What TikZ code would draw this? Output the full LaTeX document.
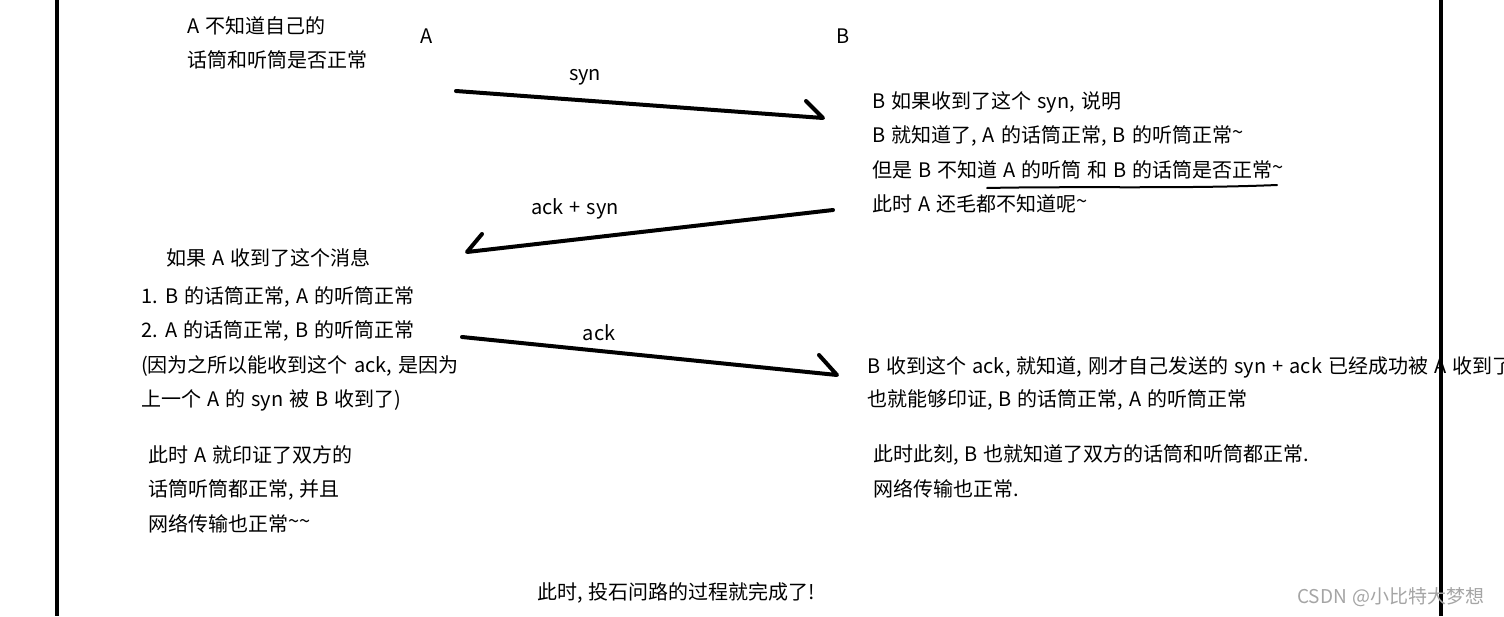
\documentclass[tikz,border=0pt]{standalone}
\usepackage{fontspec}
\setmainfont[WordSpace={1.35}]{Noto Sans CJK SC}
\definecolor{wm}{RGB}{165,165,165}
\begin{document}
\begin{tikzpicture}[x=1pt,y=-1pt,
  txt/.style={anchor=west, inner sep=0pt, font=\fontsize{20}{24}\selectfont},
  lbl/.style={anchor=center, inner sep=0pt, font=\fontsize{20}{24}\selectfont},
  pen/.style={line width=4pt, line cap=round, line join=round},
  frame/.style={line width=4pt}]
\clip (0,0) rectangle (1504,616);
\fill[white] (0,0) rectangle (1504,616);

% frame lines
\coordinate (lt) at (57,0); \coordinate (lb) at (57,616);
\draw[frame] (lt) -- (lb);

% top labels
\node[txt] (a1) at (187,26) {A 不知道自己的};
\node[txt] (a2) at (187,60) {话筒和听筒是否正常};
\node[lbl] (A) at (427,36) {A};
\node[lbl] (B) at (843,36) {B};

% arrow 1: syn
\node[lbl] (syn) at (585,77) {syn};
\coordinate (s1) at (456,91);
\coordinate (e1) at (823,118);
\coordinate (h1) at (806,101);
\draw[pen] (s1) -- (e1) -- (h1);

% B block 1
\node[txt] (b1) at (872,102) {B 如果收到了这个 syn, 说明};
\node[txt] (b2) at (872,136) {B 就知道了, A 的话筒正常, B 的听筒正常\raisebox{0.15em}{\textasciitilde}};
\node[txt] (b3) at (872,170) {但是 B 不知道 A 的听筒 和 B 的话筒是否正常\raisebox{0.15em}{\textasciitilde}};
\node[txt] (b4) at (872,204) {此时 A 还毛都不知道呢\raisebox{0.15em}{\textasciitilde}};
\coordinate (u1) at (987,188);
\coordinate (u2) at (1277,185);
\draw[line width=2pt, line cap=round] (u1) .. controls (1080,186) and (1180,189) .. (u2);

% arrow 2: ack + syn
\node[lbl] (as) at (575,209) {ack + syn};
\coordinate (s2) at (833,210);
\coordinate (e2) at (467,252);
\coordinate (h2) at (482,234);
\draw[pen] (s2) -- (e2) -- (h2);

% A block
\node[txt] (c0) at (166,258) {如果 A 收到了这个消息};
\node[txt] (c1) at (141,297) {1. B 的话筒正常, A 的听筒正常};
\node[txt] (c2) at (141,331) {2. A 的话筒正常, B 的听筒正常};
\node[txt] (c3) at (141,366) {(因为之所以能收到这个 ack, 是因为};
\node[txt] (c4) at (141,400) {上一个 A 的 syn 被 B 收到了)};

% arrow 3: ack
\node[lbl] (ack) at (599,333) {ack};
\coordinate (s3) at (462,337);
\coordinate (e3) at (837,375);
\coordinate (h3) at (819,355);
\draw[pen] (s3) -- (e3) -- (h3);

% B block 2
\node[txt] (d1) at (867,367) {B 收到这个 ack, 就知道, 刚才自己发送的 syn + ack 已经成功被 A 收到了};
\node[txt] (d2) at (867,400) {也就能够印证, B 的话筒正常, A 的听筒正常};

% bottom left
\node[txt] (f1) at (148,455) {此时 A 就印证了双方的};
\node[txt] (f2) at (148,490) {话筒听筒都正常, 并且};
\node[txt] (f3) at (148,524) {网络传输也正常\raisebox{0.15em}{\textasciitilde\textasciitilde}};

% bottom right
\node[txt] (g1) at (873,455) {此时此刻, B 也就知道了双方的话筒和听筒都正常.};
\node[txt] (g2) at (873,489) {网络传输也正常.};

% final
\node[txt] (fin) at (537,593) {此时, 投石问路的过程就完成了!};

% right frame line (drawn over text)
\coordinate (rt) at (1441,0); \coordinate (rb) at (1441,616);
\draw[frame] (rt) -- (rb);

% watermark
\node[txt, text=wm, font=\fontsize{19}{22}\selectfont] (wmk) at (1297,597) {CSDN @小比特大梦想};
\end{tikzpicture}
\end{document}
